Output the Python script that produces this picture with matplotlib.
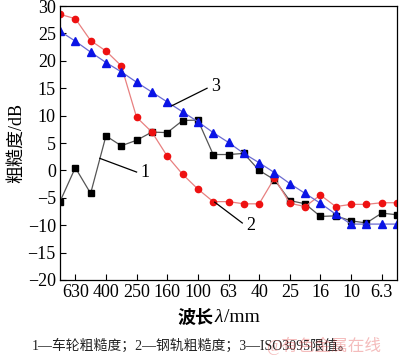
import matplotlib
matplotlib.use('Agg')
import matplotlib.pyplot as plt
import numpy as np

plt.rcParams['font.family'] = ['Liberation Serif', 'Noto Sans CJK SC', 'DejaVu Sans']

# 1/3 倍频程波长 (mm)
wavelengths = ['800', '630', '500', '400', '315', '250', '200', '160', '125', '100', '80', '63',
               '50', '40', '31.5', '25', '20', '16', '12.5', '10', '8', '6.3', '5']
wheel = [-5.7, 0.5, -4.2, 6.3, 4.5, 5.5, 7.0, 6.9, 9.1, 9.2, 2.9, 2.9,
         3.1, 0.0, -1.7, -5.5, -6.1, -8.4, -8.3, -9.2, -9.6, -7.8, -8.1]
rail = [28.5, 27.7, 23.7, 21.8, 19.1, 9.7, 7.0, 2.6, -0.7, -3.4, -5.7, -5.7,
        -6.1, -6.1, -1.4, -6.0, -6.6, -4.5, -6.6, -6.2, -6.2, -5.9, -5.9]
iso3095 = [25.4, 23.6, 21.6, 19.7, 18.0, 16.1, 14.3, 12.5, 10.7, 8.9, 6.9, 5.1,
           3.1, 1.4, -0.4, -2.4, -4.2, -6.0, -8.0, -9.8, -9.8, -9.8, -9.8]
tick_labels = ['630', '400', '250', '160', '100', '63', '40', '25', '16', '10', '6.3']

x = np.arange(len(wavelengths))

fig = plt.figure(figsize=(4.0, 3.58), dpi=100)
ax = fig.add_axes([0.15, 0.218, 0.8425, 0.765])

ax.plot(x, wheel, color='#555555', lw=0.9, marker='s', ms=4.5, mfc='black', mec='black')
ax.plot(x, rail, color='#e88080', lw=0.9, marker='o', ms=4.5, mfc='#ee1111', mec='#ee1111')
ax.plot(x, iso3095, color='#6a6ad0', lw=0.9, marker='^', ms=6, mfc='#0a14e6', mec='#0a14e6')

# 标注
ax.plot([2.6, 5.0], [2.2, -0.3], color='black', lw=0.9)
ax.text(5.25, -0.3, '1', fontsize=13, va='center', ha='left')
ax.plot([7.3, 9.6], [11.8, 15.0], color='black', lw=0.9)
ax.text(9.85, 15.4, '3', fontsize=13, va='center', ha='left')
ax.plot([10.1, 11.9], [-5.8, -9.6], color='black', lw=0.9)
ax.text(12.15, -10.1, '2', fontsize=13, va='center', ha='left')

ax.set_xlim(0, 22)
ax.set_ylim(-20, 30)
ax.set_xticks(x[1::2])
ax.set_xticklabels(tick_labels)
ax.set_yticks(np.arange(-20, 31, 5))
ax.set_yticklabels([str(v).replace('-', '\u2212') for v in range(-20, 31, 5)])
ax.tick_params(direction='in', labelsize=13, length=4, width=0.8, pad=3)
for s in ax.spines.values():
    s.set_linewidth(0.9)

ax.set_ylabel('粗糙度/dB', fontsize=13, labelpad=2)

# x 轴标题：波长 λ/mm
x0 = 0.535
fig.text(x0, 0.112, '波长', fontsize=13, ha='right', va='center', fontweight='bold',
         family=['Noto Sans CJK SC'])
fig.text(x0 + 0.002, 0.112, 'λ', fontsize=14, ha='left', va='center', style='italic')
fig.text(x0 + 0.024, 0.112, '/mm', fontsize=14, ha='left', va='center')

fig.text(0.48, 0.035, '1—车轮粗糙度；2—钢轨粗糙度；3—ISO3095限值。', fontsize=10,
         ha='center', va='center', color='#222222')
# 水印（原图中与图注重叠）
fig.text(0.81, 0.035, '@有色金属在线', fontsize=12, ha='center', va='center',
         color='#e04040', alpha=0.35)

fig.savefig('out.png', dpi=100)
